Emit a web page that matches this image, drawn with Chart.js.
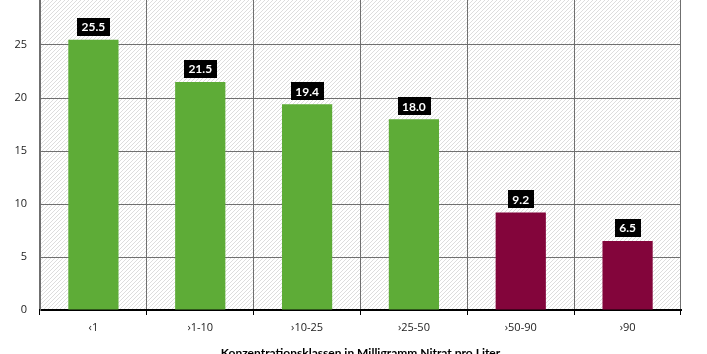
<!DOCTYPE html>
<html>
<head>
<meta charset="utf-8">
<script src="https://cdn.jsdelivr.net/npm/chart.js@4.4.0/dist/chart.umd.min.js"></script>
<style>
    html, body { margin: 0; padding: 0; background: #fff; overflow: hidden; width: 707px; height: 354px; }
    #wrap { position: absolute; left: 0; top: -19px; width: 707px; height: 390px; }
</style>
</head>
<body>
<div id="wrap"><canvas id="chart"></canvas></div>
<script>
// Data
const categories = ["‹1", "›1-10", "›10-25", "›25-50", "›50-90", "›90"];
const shares = [25.5, 21.5, 19.4, 18.0, 9.2, 6.5];
const barColors = ["#5eac37", "#5eac37", "#5eac37", "#5eac37", "#83053b", "#83053b"];
const axisTitle = "Konzentrationsklassen in Milligramm Nitrat pro Liter";

const FONT = "Lato, 'Open Sans', sans-serif";
const TICK_FONT = "'Open Sans', sans-serif";

// Hatched background of the plot area
function makeHatch() {
    const c = document.createElement("canvas");
    c.width = 4;
    c.height = 4;
    const g = c.getContext("2d");
    g.fillStyle = "#ffffff";
    g.fillRect(0, 0, 4, 4);
    g.strokeStyle = "#d4d4d4";
    g.lineWidth = 0.8;
    g.beginPath();
    g.moveTo(0, 4); g.lineTo(4, 0);
    g.moveTo(-1, 1); g.lineTo(1, -1);
    g.moveTo(3, 5); g.lineTo(5, 3);
    g.stroke();
    return c;
}

const hatchBackground = {
    id: "hatchBackground",
    beforeDraw(chart) {
        const { ctx, chartArea: a } = chart;
        ctx.save();
        ctx.fillStyle = ctx.createPattern(makeHatch(), "repeat");
        ctx.fillRect(a.left, a.top, a.right - a.left, a.bottom - a.top);
        ctx.restore();
    }
};

// Black value boxes above the bars
const valueBoxes = {
    id: "valueBoxes",
    afterDatasetsDraw(chart) {
        const { ctx } = chart;
        const meta = chart.getDatasetMeta(0);
        ctx.save();
        ctx.font = "bold 12px " + FONT;
        ctx.textAlign = "center";
        ctx.textBaseline = "middle";
        meta.data.forEach((bar, i) => {
            const text = shares[i].toFixed(1);
            const w = ctx.measureText(text).width + 9;
            const h = 18;
            const bottom = bar.y - 4;
            ctx.fillStyle = "#000";
            ctx.fillRect(Math.round(bar.x - w / 2), Math.round(bottom - h), Math.round(w), h);
            ctx.fillStyle = "#fff";
            ctx.fillText(text, bar.x, bottom - h / 2 + 0.5);
        });
        ctx.restore();
    }
};

new Chart(document.getElementById("chart"), {
    type: "bar",
    data: {
        labels: categories,
        datasets: [{
            data: shares,
            backgroundColor: barColors,
            barPercentage: 0.47,
            categoryPercentage: 1
        }]
    },
    options: {
        responsive: true,
        maintainAspectRatio: false,
        animation: false,
        layout: { padding: { top: 11, right: 26, left: 0, bottom: 0 } },
        plugins: {
            legend: { display: false },
            tooltip: { enabled: false }
        },
        scales: {
            x: {
                grid: { color: "#6f6f6f", lineWidth: 1, tickColor: "#000", tickLength: 5, offset: true },
                border: { color: "#000", width: 2 },
                ticks: { color: "#222", font: { family: TICK_FONT, size: 11 }, padding: 6, maxRotation: 0 },
                title: {
                    display: true,
                    text: axisTitle,
                    color: "#000",
                    font: { family: FONT, size: 12, weight: "bold" },
                    padding: { top: 0, bottom: 11 }
                },
                afterFit(scale) { scale.height = 61; }
            },
            y: {
                min: 0,
                max: 30,
                grid: { color: "#6f6f6f", lineWidth: 1, drawTicks: false },
                border: { color: "#6f6f6f", width: 1 },
                ticks: { stepSize: 5, color: "#222", font: { family: TICK_FONT, size: 11 }, padding: 13 },
                afterFit(scale) {
                    scale.width = 40;
                    scale.paddingTop = 0;
                    scale.paddingBottom = 0;
                }
            }
        }
    },
    plugins: [hatchBackground, valueBoxes]
});
</script>
</body>
</html>
